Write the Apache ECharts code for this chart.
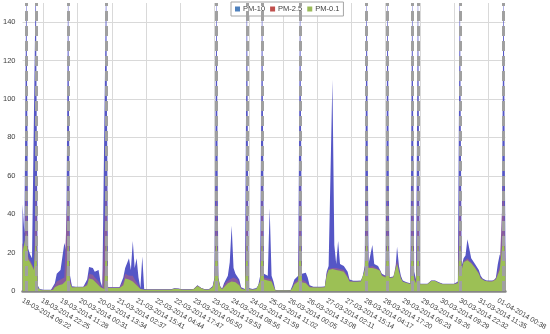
<!DOCTYPE html>
<html><head><meta charset="utf-8">
<script src="https://cdn.jsdelivr.net/npm/echarts@6/dist/echarts.min.js"></script>
<style>html,body{margin:0;padding:0;background:#fff}#c{width:550px;height:334px}</style>
</head><body><div id="c"></div>
<script>
const tickLabels = ['18-03-2014 09:22','18-03-2014 22:25','19-03-2014 11:28','20-03-2014 00:31','20-03-2014 13:34','21-03-2014 02:37','21-03-2014 15:41','22-03-2014 04:44','22-03-2014 17:47','23-03-2014 06:50','23-03-2014 19:53','24-03-2014 08:56','24-03-2014 21:59','25-03-2014 11:02','26-03-2014 00:05','26-03-2014 13:08','27-03-2014 02:11','27-03-2014 15:14','28-03-2014 04:17','28-03-2014 17:20','29-03-2014 06:23','29-03-2014 19:26','30-03-2014 09:29','30-03-2014 22:32','31-03-2014 11:35','01-04-2014 00:38'];
const seriesNames = ['PM-10','PM-2.5','PM-0.1'];
const pm10 = [
45,30,165,22,19,17,16,165,3,1,
0.6,0.6,0.6,0.6,0.6,0.6,0.8,4,9,10,
11,12,25,21,165,8,2.5,2.2,2.2,2.2,
2.2,2.2,2.2,2.4,6,12.5,13,12,10,9,
11,5,2,1.5,165,2,2,2,2,2,
2,2,2.2,7,12,13,17,11,26,12,
17,7,1.5,18,1,0.9,0.9,0.9,0.9,0.9,
0.9,0.9,0.9,0.9,0.9,0.9,0.9,0.9,0.9,1.3,
1.4,1.4,1.3,1.2,0.9,0.9,0.9,0.9,0.9,0.9,
1.1,1.7,3,2.7,1.6,0.9,0.9,0.9,0.9,1,
2.5,7,165,7,2.5,1.2,4,6,8,15,
34,12,9,8,6,2,1,1,165,1.5,
1,1,1,1.5,3,8,165,9,8.5,8,
43,8,5,0.5,0.3,0.3,0.3,0.3,0.3,0.3,
0.3,0.5,3,6,7,8,165,9,10,9.5,
7,3,2.2,2.2,2.2,2.2,2.2,2.2,2.2,2.4,
10,13,14,110,24,14,26,14,13,13,
12,10,6,5.3,5.3,5.3,5.3,5.3,5.5,8,
13,165,14,14,24,14,13,13,12,9,
8,8,165,7.2,7.2,7.5,9,23,13,8,
5.5,5,4.5,4.2,4,165,10,6,165,3.8,
3.8,3.8,3.8,3.8,4.5,5.5,5.5,5.5,5.2,4.5,
3.8,3.8,3.8,3.8,3.8,3.8,3.8,3.8,3.8,5,
165,13,17,18.5,27,26,17,16,14,13,
11,8,6.5,5.8,5.5,5.5,5.5,5.5,5.5,7,
14,19,17,165,20];
const pm25 = [
25,22,60,18,16,14,12,60,2,0.7,
0.5,0.5,0.5,0.5,0.5,0.5,0.6,3,5,5.5,
6,6.5,7,8,60,6,2,2.1,2.1,2.1,
2.1,2.1,2.1,2.2,4,9,9.5,8.5,7,6,
5,3,1.5,1.2,60,1.8,1.8,1.8,1.8,1.8,
1.8,1.8,2,5,9,9.5,8,7.5,8,6,
5,3,1.2,2,0.8,0.8,0.8,0.8,0.8,0.8,
0.8,0.8,0.8,0.8,0.8,0.8,0.8,0.8,0.8,1.2,
1.3,1.3,1.2,1.1,0.8,0.8,0.8,0.8,0.8,0.8,
1,1.5,2.8,2.5,1.5,0.8,0.8,0.8,0.8,0.9,
2.2,6.5,60,6.5,2.2,1,3,4.5,5.5,6,
7,7,6.5,6,4,1.5,0.8,0.8,60,1.2,
0.8,0.8,0.8,1.2,2.5,6,60,7,7,6.5,
7,6,3,0.4,0.25,0.25,0.25,0.25,0.25,0.25,
0.25,0.4,2,4.5,5,6,60,6,5.5,5,
4,2.5,2,2,2,2,2,2,2,2.2,
9,11.5,12,12,12,12,12,11.5,11,11,
10.5,8,5.5,5,5,5,5,5,5.2,7,
12,60,12.5,12.5,13,12.5,12,12,11,8.5,
7.5,7.5,60,7,7,7.2,8,16,11,7,
5,4.8,4.3,4,3.8,60,8,5,60,3.6,
3.6,3.6,3.6,3.6,4.3,5.3,5.3,5.3,5,4.3,
3.6,3.6,3.6,3.6,3.6,3.6,3.6,3.6,3.6,4.5,
60,12,15.5,16.5,17,16.5,15,14,12.5,11.5,
9.5,7,6,5.5,5.2,5.2,5.2,5.2,5.2,6.5,
10,13,13,60,16];
const pm01 = [
20,19,30,16.5,15,13,11,30,1.5,0.5,
0.4,0.4,0.4,0.4,0.4,0.4,0.5,2,3,3,
3,3.5,4.5,5.5,30,4,1.8,2,2,2,
2,2,2,2,3,6.5,6.8,6,5,4,
3.5,2,1.2,1,30,1.6,1.6,1.6,1.6,1.6,
1.6,1.6,1.8,3,6.5,7,6,5.5,5,4,
3,2,1,1,0.7,0.7,0.7,0.7,0.7,0.7,
0.7,0.7,0.7,0.7,0.7,0.7,0.7,0.7,0.7,1.1,
1.2,1.2,1.1,1,0.7,0.7,0.7,0.7,0.7,0.7,
0.9,1.4,2.6,2.3,1.4,0.7,0.7,0.7,0.7,0.8,
2,6,30,6,2,0.9,2,3,4,4.5,
5,5,4.5,4,3,1.2,0.7,0.7,30,1,
0.7,0.7,0.7,1,2,5,30,6,6,5.5,
5.5,5,2.5,0.3,0.2,0.2,0.2,0.2,0.2,0.2,
0.2,0.3,1.5,3.5,4,5,30,4.5,4,4,
3,2,1.8,1.8,1.8,1.8,1.8,1.8,1.8,2,
8,11,11.5,11.5,11.5,11,11,10.5,10.5,10,
10,7,5,4.8,4.8,4.8,4.8,4.8,5,6,
11,30,12,12,12,11.5,11.5,11,10.5,8,
7.2,7,30,6.8,6.8,7,7.5,14,10,6.5,
4.8,4.6,4.2,3.8,3.6,30,6,4,30,3.5,
3.5,3.5,3.5,3.5,4.2,5.2,5.2,5.2,4.9,4.2,
3.5,3.5,3.5,3.5,3.5,3.5,3.5,3.5,3.5,4,
30,11,15,16,16,15.5,14.5,13.5,12,11,
9,6.5,5.8,5.3,5,5,5,5,5,6,
8.5,11,12,30,14];
const eventIdx = [2,7,24,44,102,118,126,146,181,192,205,208,230,253];

const LABEL_STEP = 10;
const categories = pm10.map((v, i) => (i % LABEL_STEP === 0 ? tickLabels[i / LABEL_STEP] : ''));

const chart = echarts.init(document.getElementById('c'), null, {renderer: 'canvas'});
const FONT = 'Liberation Sans';
function areaSeries(name, data, legendColor, fillColor, z) {
  return {
    name, type: 'line', data, z,
    showSymbol: false, symbol: 'none',
    lineStyle: {width: 0, color: legendColor},
    itemStyle: {color: legendColor},
    areaStyle: {color: fillColor, opacity: 1},
    emphasis: {disabled: true},
    silent: true
  };
}
chart.setOption({
  animation: false,
  grid: {left: 20, right: 34, top: 3, bottom: 43},
  legend: {
    data: seriesNames, left: 231, top: 2,
    icon: 'rect', itemWidth: 5, itemHeight: 5, itemGap: 5,
    borderColor: '#a6a6a6', borderWidth: 1, padding: [3, 4, 3, 4],
    backgroundColor: '#fff',
    textStyle: {fontFamily: FONT, fontSize: 7.5, color: '#404040', padding: [0, 0, 0, -2]}
  },
  xAxis: {
    type: 'category', data: categories, boundaryGap: false,
    axisLine: {show: true, lineStyle: {color: '#858585', width: 2.5}},
    axisTick: {show: false},
    axisLabel: {interval: LABEL_STEP - 1, rotate: -30, margin: 9, fontFamily: FONT, fontSize: 7, color: '#404040'},
    splitLine: {show: true, interval: (idx) => idx % 18 === 11, lineStyle: {color: '#d9d9d9', width: 1}}
  },
  yAxis: {
    type: 'value', min: 0, max: 150, interval: 20,
    axisLine: {show: false}, axisTick: {show: false},
    axisLabel: {showMaxLabel: false, margin: 7, fontFamily: FONT, fontSize: 7.5, color: '#404040'},
    splitLine: {show: true, showMaxLine: false, lineStyle: {color: '#d9d9d9', width: 1}}
  },
  series: [
    areaSeries('PM-10', pm10, '#4f81bd', '#5556c6', 2),
    areaSeries('PM-2.5', pm25, '#c0504d', '#8a5c9e', 3),
    areaSeries('PM-0.1', pm01, '#9bbb59', '#9cc055', 4),
    {
      type: 'line', data: [], z: 6, silent: true,
      markLine: {
        silent: true, symbol: 'none', animation: false,
        label: {show: false},
        lineStyle: {color: '#a0a0a0', width: 3, type: [10, 5]},
        data: eventIdx.map(i => ({xAxis: i}))
      }
    }
  ]
});
</script>
</body></html>
